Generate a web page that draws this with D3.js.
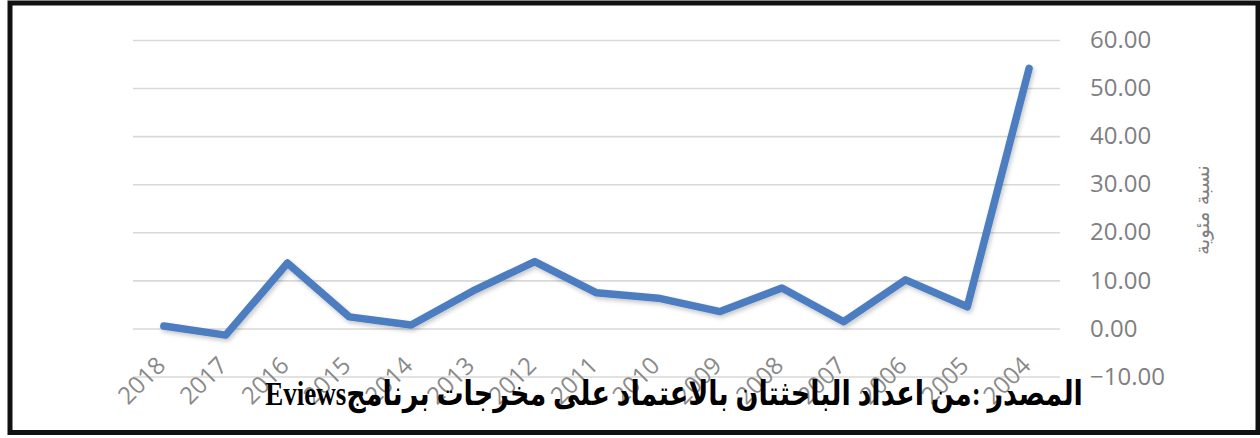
<!DOCTYPE html>
<html>
<head>
<meta charset="utf-8">
<script src="https://cdn.jsdelivr.net/npm/d3@7"></script>
<style>
  html, body { margin: 0; padding: 0; background: #fff; }
  svg { display: block; }
</style>
</head>
<body>
<div id="chart"></div>
<script>
// data
var years = ["2018", "2017", "2016", "2015", "2014", "2013", "2012", "2011", "2010", "2009", "2008", "2007", "2006", "2005", "2004"];
var values = [0.5, -1.4, 13.6, 2.4, 0.7, 7.8, 13.9, 7.4, 6.3, 3.5, 8.4, 1.4, 10.1, 4.5, 54.1];
var yTicks = [-10, 0, 10, 20, 30, 40, 50, 60];
var yTitle = "نسبة مئوية";
var sourceText = "المصدر :من اعداد الباحثتان بالاعتماد على مخرجات برنامجEviews";

var width = 1260, height = 438;
var plot = { left: 133, right: 1060, top: 40, bottom: 376.5 };

var svg = d3.select("#chart").append("svg")
    .attr("width", width)
    .attr("height", height);

// line shadow
var defs = svg.append("defs");
var f = defs.append("filter").attr("id", "shadow")
    .attr("x", "-5%").attr("y", "-20%").attr("width", "110%").attr("height", "140%");
f.append("feDropShadow")
    .attr("dx", 1.5).attr("dy", 2.5)
    .attr("stdDeviation", 2)
    .attr("flood-color", "#000")
    .attr("flood-opacity", 0.22);

svg.append("rect").attr("width", width).attr("height", height).attr("fill", "#fff");

var x = d3.scaleBand().domain(years).range([plot.left, plot.right]).padding(0);
var y = d3.scaleLinear().domain([-10, 60]).range([plot.bottom, plot.top]);

// gridlines + right axis labels
var yAxis = svg.append("g")
    .attr("transform", "translate(" + plot.right + ",0)")
    .call(d3.axisRight(y)
        .tickValues(yTicks)
        .tickSize(-(plot.right - plot.left))
        .tickPadding(30)
        .tickFormat(d3.format(".2f")));
yAxis.select(".domain").remove();
yAxis.selectAll("line").attr("stroke", "#d9d9d9").attr("stroke-width", 1.6);
yAxis.selectAll("text")
    .attr("fill", "#7f7f7f")
    .style("font-family", "'Open Sans', 'Noto Sans', sans-serif")
    .style("font-size", "24px");

// axis title
svg.append("text")
    .attr("transform", "translate(1202,210) rotate(-90)")
    .attr("text-anchor", "middle")
    .attr("dy", "0.35em")
    .attr("fill", "#808080")
    .style("font-family", "'DejaVu Sans', sans-serif")
    .style("font-size", "20px")
    .text(yTitle);

// year labels, rotated 45 degrees
var xLabels = svg.append("g").attr("class", "x-labels")
    .selectAll("g").data(years)
    .enter().append("g")
    .attr("transform", function (d) {
        return "translate(" + (x(d) + x.bandwidth() / 2 + 3) + ",367) rotate(-45)";
    });
xLabels.append("text")
    .attr("text-anchor", "end")
    .attr("fill", "#8a8a8a")
    .style("font-family", "'Open Sans', 'Noto Sans', sans-serif")
    .style("font-size", "24px")
    .text(function (d) { return d; });

// the series
var line = d3.line()
    .x(function (d, i) { return x(years[i]) + x.bandwidth() / 2; })
    .y(function (d) { return y(d); });

svg.append("path")
    .datum(values)
    .attr("d", line)
    .attr("fill", "none")
    .attr("stroke", "#4b7dc0")
    .attr("stroke-width", 7.5)
    .attr("stroke-linejoin", "round")
    .attr("stroke-linecap", "round")
    .attr("filter", "url(#shadow)");

// source note (squeezed horizontally to the width it has in the picture)
var noteG = svg.append("g");
var note = noteG.append("text")
    .attr("x", 0)
    .attr("y", 0)
    .attr("text-anchor", "middle")
    .attr("direction", "rtl")
    .style("unicode-bidi", "embed")
    .attr("fill", "#000")
    .style("font-family", "'Liberation Serif', 'DejaVu Sans', serif")
    .style("font-weight", "bold")
    .style("font-size", "34px")
    .text(sourceText);
var w = note.node().getComputedTextLength();
var sx = w > 0 ? 818 / w : 1;
noteG.attr("transform", "translate(674,405) scale(" + sx + ",1)");

// frame
svg.append("rect")
    .attr("x", 10).attr("y", 3)
    .attr("width", 1248).attr("height", 429.5)
    .attr("fill", "none")
    .attr("stroke", "#111")
    .attr("stroke-width", 5);
</script>
</body>
</html>
